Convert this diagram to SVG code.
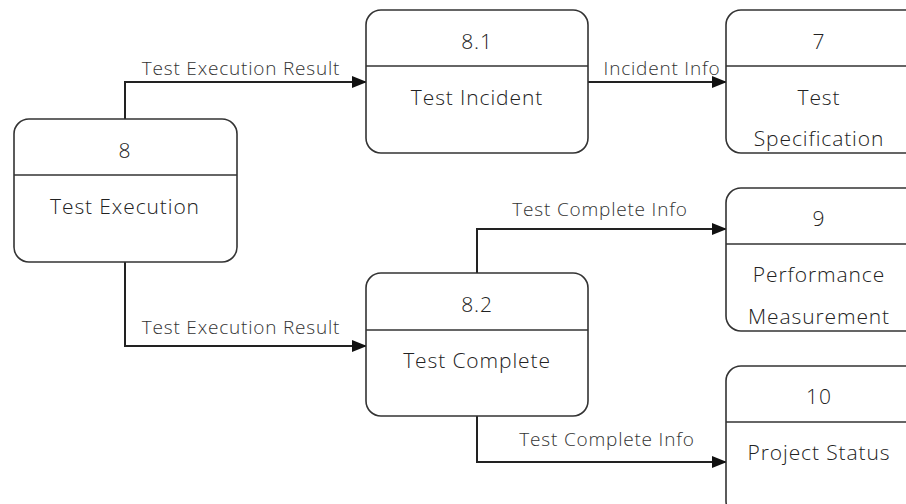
<svg xmlns="http://www.w3.org/2000/svg" width="906" height="504" viewBox="0 0 906 504">
<style>
.box{fill:#fff;stroke:#333;stroke-width:1.6}
.div{stroke:#333;stroke-width:1.6}
.t{font-family:"Open Sans","Noto Sans",sans-serif;font-size:21px;font-weight:300;letter-spacing:0.9px;fill:#222;text-anchor:middle}
.lbl{font-family:"Open Sans","Noto Sans",sans-serif;font-size:19px;font-weight:300;letter-spacing:0.8px;fill:#333;text-anchor:middle}
.c{fill:none;stroke:#222;stroke-width:2;marker-end:url(#a)}
</style>
<defs>
<marker id="a" markerWidth="16" markerHeight="12" refX="14" refY="6" orient="auto" markerUnits="userSpaceOnUse">
<path d="M0,0 L15,6 L0,12 Z" fill="#111"/>
</marker>
</defs>
<g id="connectors">
<path class="c" d="M125,119 V82 H366"/>
<path class="c" d="M588,82 H726"/>
<path class="c" d="M125,262 V346 H366"/>
<path class="c" d="M477,273 V229 H726"/>
<path class="c" d="M477,416 V462 H726"/>
<text class="lbl" x="241" y="75">Test Execution Result</text>
<text class="lbl" x="662" y="75">Incident Info</text>
<text class="lbl" x="241" y="334">Test Execution Result</text>
<text class="lbl" x="600" y="216">Test Complete Info</text>
<text class="lbl" x="607" y="446">Test Complete Info</text>
</g>
<g id="n8">
<rect class="box" x="14" y="119" width="223" height="143" rx="15"/>
<line class="div" x1="14" y1="175" x2="237" y2="175"/>
<text class="t" x="125" y="158">8</text>
<text class="t" x="125" y="214">Test Execution</text>
</g>
<g id="n81">
<rect class="box" x="366" y="10" width="222" height="143" rx="15"/>
<line class="div" x1="366" y1="66" x2="588" y2="66"/>
<text class="t" x="477" y="49">8.1</text>
<text class="t" x="477" y="105">Test Incident</text>
</g>
<g id="n82">
<rect class="box" x="366" y="273" width="222" height="143" rx="15"/>
<line class="div" x1="366" y1="330" x2="588" y2="330"/>
<text class="t" x="477" y="312">8.2</text>
<text class="t" x="477" y="368">Test Complete</text>
</g>
<g id="n7">
<rect class="box" x="726" y="10" width="200" height="143" rx="15"/>
<line class="div" x1="726" y1="66" x2="906" y2="66"/>
<text class="t" x="819" y="49">7</text>
<text class="t" x="819" y="105">Test</text>
<text class="t" x="819" y="146">Specification</text>
</g>
<g id="n9">
<rect class="box" x="726" y="188" width="200" height="143" rx="15"/>
<line class="div" x1="726" y1="244" x2="906" y2="244"/>
<text class="t" x="819" y="226">9</text>
<text class="t" x="819" y="282">Performance</text>
<text class="t" x="819" y="324">Measurement</text>
</g>
<g id="n10">
<rect class="box" x="726" y="366" width="200" height="150" rx="15"/>
<line class="div" x1="726" y1="422" x2="906" y2="422"/>
<text class="t" x="819" y="404">10</text>
<text class="t" x="819" y="460">Project Status</text>
</g>
</svg>
